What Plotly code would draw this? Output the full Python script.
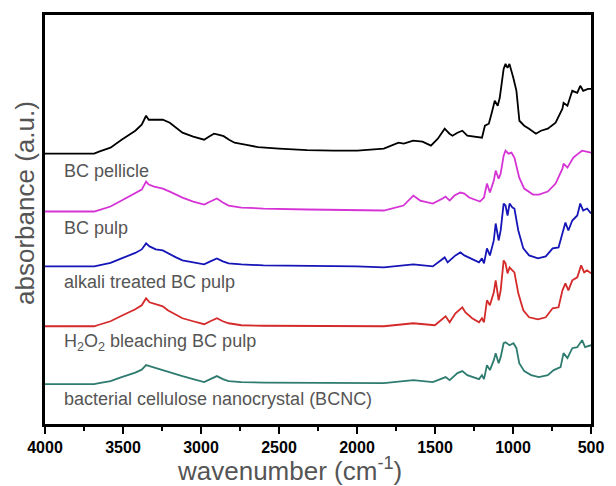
import plotly.graph_objects as go

# ---- data (absorbance, arbitrary units incl. vertical stacking offset) ----
pellicle_wn = [4000, 3685, 3654, 3580, 3509, 3421, 3380, 3352, 3335, 3300, 3245, 3200, 3160, 3119, 3050,
               2980, 2950, 2917, 2890, 2855, 2820, 2785, 2700, 2634, 2500, 2319, 2150, 1998,
               1828, 1760, 1734, 1700, 1640, 1580, 1526, 1482, 1438, 1407, 1388, 1356, 1325, 1293, 1240,
               1199, 1180, 1155, 1136, 1117, 1098, 1085, 1060, 1048, 1035, 1023, 998, 978, 959, 928,
               897, 853, 821, 777, 727, 683, 676, 651, 620, 588, 569, 550, 519, 500]
pellicle_ab = [271, 271, 273, 277, 285, 294, 300, 309, 305, 305, 305, 302, 297, 292, 288,
               285, 288, 291, 290, 288.5, 285, 282, 279.5, 277.5, 276, 274.5, 274, 274,
               276, 280, 282, 281, 284, 283, 279, 286, 296, 291, 289, 292, 294, 289, 288,
               287, 299, 301, 312, 324, 319, 327, 356, 361, 357, 361, 347, 334, 304, 299,
               296, 291, 294, 296, 302, 316, 322, 319, 334, 332, 339, 334, 336, 336]

pulp_wn = [4000, 3685, 3654, 3580, 3509, 3421, 3380, 3352, 3335, 3300, 3245, 3200, 3160, 3119, 3050,
           2980, 2940, 2898, 2860, 2823, 2741, 2600, 2319, 1998, 1828, 1702, 1639,
           1595, 1514, 1451, 1432, 1406, 1375, 1337, 1312, 1281, 1212, 1186, 1167, 1148, 1123, 1111,
           1092, 1079, 1060, 1048, 1029, 1010, 991, 960, 928, 872, 834, 777, 727, 683, 676, 651,
           613, 582, 557, 500]
pulp_ab = [213, 213, 214.5, 218, 224, 231, 235, 243, 240, 238, 236, 233, 230, 227, 223,
           220, 223, 226, 222, 219, 217, 216, 215, 214, 214, 219, 229,
           224, 221, 226, 228, 224, 229, 232, 231, 227, 223, 227, 241, 232, 244, 254,
           246, 251, 269, 274, 271, 272, 267, 247, 236, 230, 230, 233, 241, 256, 261, 257,
           267, 271, 274, 272]

alkali_wn = [4000, 3685, 3654, 3580, 3509, 3421, 3380, 3352, 3330, 3290, 3245, 3200, 3160, 3119, 3050,
             2980, 2940, 2898, 2860, 2823, 2741, 2600, 2000, 1828, 1639, 1514, 1438,
             1419, 1369, 1337, 1312, 1274, 1218, 1199, 1186, 1167, 1148, 1123, 1111, 1092, 1079, 1060,
             1048, 1035, 1022, 1004, 991, 966, 934, 897, 840, 790, 746, 708, 683, 664, 645, 620,
             588, 569, 550, 525, 500]
alkali_ab = [158, 158, 159, 161.5, 166, 171.5, 175, 181, 178, 175, 174, 170, 167, 164, 162,
             160, 163, 166, 163, 161, 160, 159, 158, 157, 160, 158, 167,
             162, 169, 172, 169, 166, 162, 166, 161, 176, 169, 184, 201, 184, 194, 221,
             219, 209, 221, 217, 216, 194, 176, 169, 166, 168, 176, 177, 191, 202, 194, 204,
             209, 221, 214, 216, 211]

h2o2_wn = [4000, 3685, 3654, 3580, 3509, 3421, 3380, 3352, 3330, 3290, 3245, 3213, 3160, 3119, 3050,
           2980, 2940, 2898, 2860, 2823, 2741, 2600, 1828, 1639, 1501, 1432,
           1406, 1369, 1325, 1306, 1262, 1218, 1199, 1186, 1167, 1148, 1123, 1111, 1092, 1079, 1060,
           1048, 1035, 1022, 1004, 991, 966, 934, 897, 840, 790, 746, 708, 683, 664, 645, 620,
           588, 563, 544, 525, 500]
h2o2_ab = [98, 98, 99.5, 103, 108.5, 115, 119, 126, 122, 120, 118, 114, 109, 106, 103,
           100, 103, 106, 103, 101, 99, 98.5, 98, 101, 99, 108,
           102, 111, 117, 112, 106, 102, 106, 102, 124, 119, 132, 144, 124, 134, 164,
           161, 151, 157, 154, 152, 131, 114, 107, 105, 107, 116, 117, 134, 141, 134, 144,
           147, 159, 152, 154, 151]

bcnc_wn = [4000, 3685, 3654, 3580, 3509, 3421, 3380, 3352, 3330, 3290, 3245, 3200, 3160, 3119, 3050,
           2980, 2940, 2898, 2860, 2823, 2741, 2600, 1828, 1639, 1514, 1432, 1406,
           1356, 1325, 1293, 1218, 1199, 1186, 1167, 1148, 1123, 1111, 1092, 1079, 1060, 1048, 1022,
           997, 978, 960, 928, 884, 834, 777, 739, 695, 676, 651, 620, 588, 557, 538, 500]
bcnc_ab = [40, 40, 41, 43, 47, 51.5, 54.5, 59, 58, 56, 54, 51.5, 49.5, 48, 45,
           42, 45, 48, 45, 43, 42, 41.5, 41, 44, 42, 47, 44,
           51, 53, 49, 45, 49, 45, 59, 54, 64, 71, 61, 67, 81, 82, 79,
           81, 76, 61, 53, 49, 47, 49, 54, 57, 71, 66, 76, 77, 84, 77, 79]

series_names = ["BC pellicle", "BC pulp", "alkali treated BC pulp",
                "H<sub>2</sub>O<sub>2</sub> bleaching BC pulp",
                "bacterial cellulose nanocrystal (BCNC)"]
series_wn = [pellicle_wn, pulp_wn, alkali_wn, h2o2_wn, bcnc_wn]
series_ab = [pellicle_ab, pulp_ab, alkali_ab, h2o2_ab, bcnc_ab]
series_colors = ["#000000", "#D633D6", "#1515B8", "#D42A2A", "#2E7B6F"]
label_y = [254, 196, 142, 82, 25]

x_ticks = [4000, 3500, 3000, 2500, 2000, 1500, 1000, 500]

fig = go.Figure()
for wn, ab, col in zip(series_wn, series_ab, series_colors):
    fig.add_trace(go.Scatter(x=wn, y=ab, mode="lines",
                             line=dict(color=col, width=1.8), showlegend=False))

for name, ly in zip(series_names, label_y):
    fig.add_annotation(x=3890, y=ly, xref="x", yref="y", text=name, showarrow=False,
                       xanchor="left", yanchor="middle",
                       font=dict(family="Arial, Liberation Sans", size=18, color="#555555"))

# axis titles as free annotations (positioned like the reference)
fig.add_annotation(x=(294 - 45) / 556, y=-(470 - 424) / 410, xref="paper", yref="paper",
                   text="wavenumber (cm<sup>-1</sup>)", showarrow=False,
                   xanchor="center", yanchor="middle",
                   font=dict(family="Arial, Liberation Sans", size=26, color="#555555"))
fig.add_annotation(x=-(45 - 24) / 556, y=(424 - 202) / 410, xref="paper", yref="paper",
                   text="absorbance (a.u.)", showarrow=False, textangle=-90,
                   xanchor="center", yanchor="middle",
                   font=dict(family="Arial, Liberation Sans", size=26, color="#555555"))

fig.update_layout(
    width=616, height=486,
    margin=dict(l=45, r=15, t=14, b=62),
    paper_bgcolor="white", plot_bgcolor="white",
    xaxis=dict(range=[4000, 500], tickvals=x_ticks, ticktext=[str(t) for t in x_ticks],
               showline=True, linecolor="black", linewidth=2.5, mirror=True,
               ticks="outside", ticklen=7, tickwidth=2, tickcolor="black",
               minor=dict(dtick=250, ticks="outside", ticklen=4, tickwidth=2, tickcolor="black"),
               showgrid=False, zeroline=False,
               tickfont=dict(family="Arial, Liberation Sans", size=16, color="black", weight="bold")),
    yaxis=dict(range=[0, 410], showline=True, linecolor="black", linewidth=2.5, mirror=True,
               showticklabels=False, ticks="", showgrid=False, zeroline=False),
)

fig.write_html("out.html")
